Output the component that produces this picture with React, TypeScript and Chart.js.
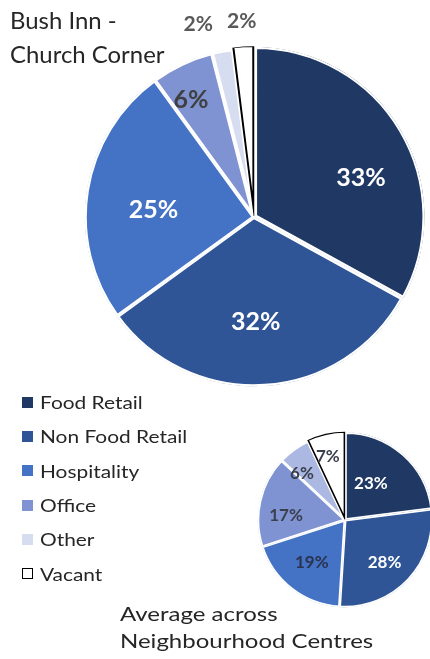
import React, { useEffect, useRef } from 'react';
import { Chart, registerables } from 'chart.js';

Chart.register(...registerables);

const categories = ['Food Retail', 'Non Food Retail', 'Hospitality', 'Office', 'Other', 'Vacant'];
const bushInnValues = [33, 32, 25, 6, 2, 2];
const averageValues = [23, 28, 19, 17, 6, 7];
const sliceColors = ['#1f3864', '#2f5597', '#4472c4', '#7f92d2', '#d7ddf1', '#ffffff'];
const smallSliceColors = ['#1f3864', '#2f5597', '#4472c4', '#7f92d2', '#abb8e2', '#ffffff'];
const sliceBorders = ['#ffffff', '#ffffff', '#ffffff', '#ffffff', '#ffffff', '#000000'];
const bigTitle = ['Bush Inn -', 'Church Corner'];
const smallTitle = ['Average across', 'Neighbourhood Centres'];

const FONT = 'Lato, "Open Sans", sans-serif';

const pctLabels = {
  id: 'pctLabels',
  afterDatasetsDraw(chart: any, _args: any, opts: any) {
    const ctx = chart.ctx;
    const meta = chart.getDatasetMeta(0);
    const data = chart.data.datasets[0].data as number[];
    const items: any[] = [];
    meta.data.forEach((arc: any, i: number) => {
      const p = arc.getProps(['x', 'y', 'startAngle', 'endAngle', 'outerRadius'], true);
      const mid = (p.startAngle + p.endAngle) / 2;
      const v = data[i];
      const outside = v < opts.outsideBelow;
      const f = outside ? opts.outsideFactor : v < opts.narrowBelow ? opts.narrowFactor : opts.insideFactor;
      const nudge = (opts.nudges && opts.nudges[i]) || [0, 0];
      const x = p.x + Math.cos(mid) * p.outerRadius * f + nudge[0];
      const y = p.y + Math.sin(mid) * p.outerRadius * f + nudge[1];
      items.push({ x, y, text: v + '%', outside, color: opts.colors[i] });
    });
    ctx.save();
    ctx.textAlign = 'center';
    ctx.textBaseline = 'middle';
    let leftEdge = Infinity;
    for (let i = items.length - 1; i >= 0; i--) {
      const it = items[i];
      if (!it.outside) continue;
      ctx.font = opts.outsideFont;
      const w = ctx.measureText(it.text).width;
      if (it.x + w / 2 > leftEdge - opts.gap) it.x = leftEdge - opts.gap - w / 2;
      leftEdge = it.x - w / 2;
    }
    items.forEach((it) => {
      ctx.font = it.outside ? opts.outsideFont : opts.font;
      ctx.fillStyle = it.color;
      ctx.fillText(it.text, it.x, it.y);
    });
    ctx.restore();
  },
};

function PieChart(props: {
  values: number[];
  colors: string[];
  left: number;
  top: number;
  width: number;
  height: number;
  padding: any;
  offsets: number[];
  borderWidths: number[];
  labels: any;
}) {
  const ref = useRef<HTMLCanvasElement>(null);
  useEffect(() => {
    if (!ref.current) return;
    const chart = new Chart(ref.current, {
      type: 'pie',
      data: {
        labels: categories,
        datasets: [
          {
            data: props.values,
            backgroundColor: props.colors,
            borderColor: sliceBorders,
            borderWidth: props.borderWidths,
            borderAlign: 'inner',
            offset: props.offsets,
            hoverOffset: 0,
          } as any,
        ],
      },
      options: {
        responsive: false,
        animation: false,
        devicePixelRatio: 1,
        events: [],
        layout: { padding: props.padding },
        plugins: {
          legend: { display: false },
          tooltip: { enabled: false },
          pctLabels: props.labels,
        } as any,
      },
      plugins: [pctLabels],
    });
    return () => chart.destroy();
  }, []);
  return (
    <canvas
      ref={ref}
      width={props.width}
      height={props.height}
      style={{ position: 'absolute', left: props.left, top: props.top, width: props.width, height: props.height }}
    />
  );
}

export default function App() {
  const textColor = '#262626';
  return (
    <div
      style={{
        position: 'fixed',
        left: 0,
        top: 0,
        width: 430,
        height: 659,
        overflow: 'hidden',
        background: '#ffffff',
        fontFamily: FONT,
        color: textColor,
      }}
    >
      <PieChart
        values={bushInnValues}
        colors={sliceColors}
        left={0}
        top={0}
        width={430}
        height={400}
        padding={{ left: 78, right: 0, top: 45, bottom: 11 }}
        offsets={[5, 0, 0, 0, 0, 5]}
        borderWidths={[2, 2, 2, 2, 2, 1.5]}
        labels={{
          font: 'bold 25px ' + FONT,
          outsideFont: 'bold 21px ' + FONT,
          colors: ['#ffffff', '#ffffff', '#ffffff', '#404040', '#595959', '#595959'],
          insideFactor: 0.63,
          narrowFactor: 0.79,
          narrowBelow: 10,
          outsideBelow: 3,
          outsideFactor: 1.16,
          gap: 14,
          nudges: [[15, 15], [-5, -2], [5, 10], [-6, 4], [0, 0], [0, 0]],
        }}
      />
      <PieChart
        values={averageValues}
        colors={smallSliceColors}
        left={240}
        top={420}
        width={200}
        height={200}
        padding={{ left: 15, right: 5, top: 11, bottom: 11 }}
        offsets={[2, 0, 0, 0, 0, 3]}
        borderWidths={[1.5, 1.5, 1.5, 1.5, 1.5, 1.2]}
        labels={{
          font: 'bold 17px ' + FONT,
          outsideFont: 'bold 17px ' + FONT,
          colors: ['#ffffff', '#ffffff', '#2a3350', '#3a3f4c', '#3a3f4c', '#3a3f4c'],
          insideFactor: 0.62,
          narrowFactor: 0.74,
          narrowBelow: 10,
          outsideBelow: 0,
          outsideFactor: 1.1,
          gap: 6,
          nudges: [[-10, 4], [0, 5], [0, 0], [-6, 7], [-5, 6], [-3, 0]],
        }}
      />
      <div
        style={{
          position: 'absolute',
          left: 10,
          top: 3,
          fontSize: 23,
          lineHeight: '34px',
          whiteSpace: 'nowrap',
          transform: 'scaleX(1.04)',
          transformOrigin: 'left top',
        }}
      >
        {bigTitle.map((t) => (
          <div key={t}>{t}</div>
        ))}
      </div>
      <div style={{ position: 'absolute', left: 22, top: 385 }}>
        {categories.map((c, i) => (
          <div key={c} style={{ display: 'flex', alignItems: 'center', height: 34.3 }}>
            <div
              style={{
                width: 11,
                height: 11,
                boxSizing: 'border-box',
                background: sliceColors[i],
                border: i === categories.length - 1 ? '1px solid #000' : 'none',
                marginRight: 7,
                flex: 'none',
              }}
            />
            <span
              style={{
                fontSize: 18,
                whiteSpace: 'nowrap',
                display: 'inline-block',
                transform: 'scaleX(1.16)',
                transformOrigin: 'left center',
              }}
            >
              {c}
            </span>
          </div>
        ))}
      </div>
      <div
        style={{
          position: 'absolute',
          left: 120,
          top: 600,
          fontSize: 20,
          lineHeight: '27px',
          whiteSpace: 'nowrap',
          transform: 'scaleX(1.2)',
          transformOrigin: 'left top',
        }}
      >
        {smallTitle.map((t) => (
          <div key={t}>{t}</div>
        ))}
      </div>
    </div>
  );
}
